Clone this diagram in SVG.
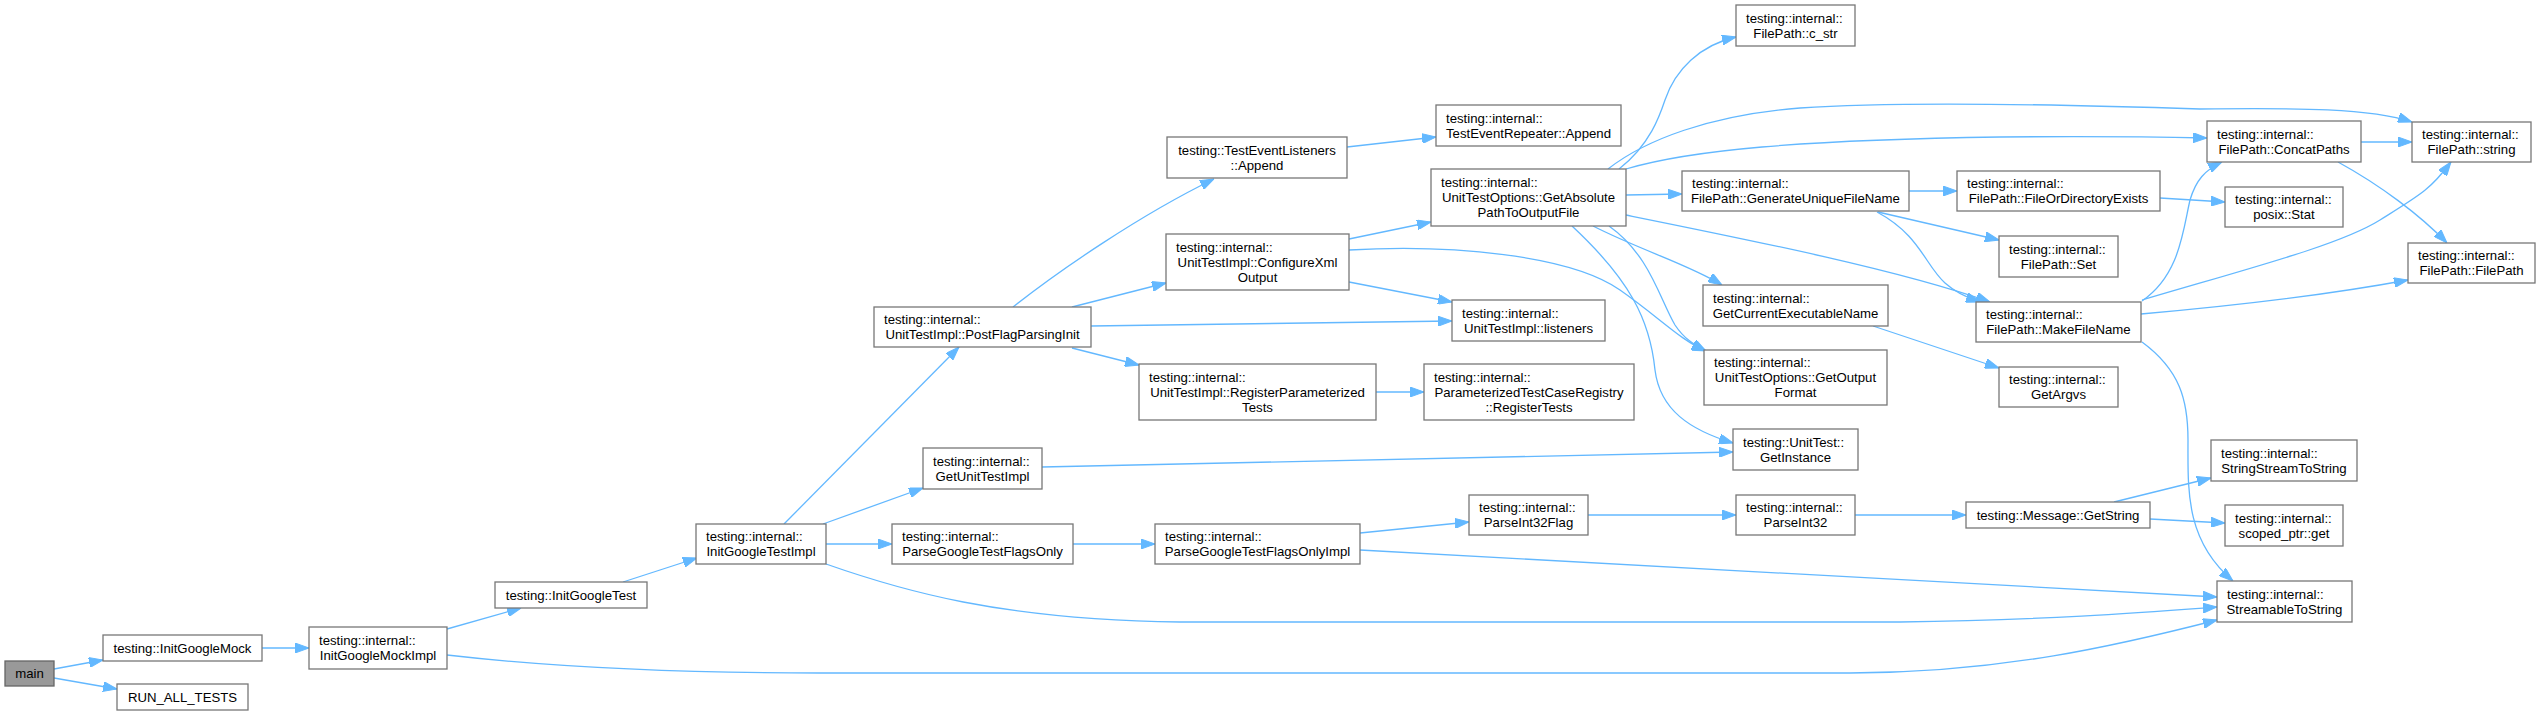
<svg xmlns="http://www.w3.org/2000/svg" width="2540" height="716" viewBox="0 0 2540 716">
<style>
.node rect{fill:#ffffff;stroke:#777777;stroke-width:1.3}
.node text{font-family:"Liberation Sans",Arial,Helvetica,sans-serif;font-size:13.2px;fill:#000000}
.node .l{text-anchor:start}
.node .c{text-anchor:middle}
#n_main rect{fill:#999999;stroke:#666666}
.edges path{fill:none;stroke:#63b8ff;stroke-width:1.3;marker-end:url(#arr)}
</style>
<defs>
<marker id="arr" markerWidth="14" markerHeight="10" refX="14" refY="5" orient="auto" markerUnits="userSpaceOnUse"><path d="M0,0 L14,5 L0,10 z" fill="#63b8ff" stroke="#63b8ff" stroke-width="1"/></marker>
</defs>
<rect width="2540" height="716" fill="#ffffff"/>
<g class="edges">
<path d="M54,669 L103,660"/>
<path d="M54,678 L117,689"/>
<path d="M262,648 L309,648"/>
<path d="M447,629 L521,608"/>
<path d="M447,655 C560,668 680,673 820,673 L1850,673 C2000,673 2120,645 2217,620"/>
<path d="M623,582 L697,558"/>
<path d="M784,524 L959,347"/>
<path d="M823,524 L923,488"/>
<path d="M826,544 L892,544"/>
<path d="M826,564 C900,590 1000,620 1180,622 L1900,622 C2050,620 2150,612 2217,607"/>
<path d="M1073,544 L1155,544"/>
<path d="M1360,533 L1469,522"/>
<path d="M1360,550 L2217,597"/>
<path d="M1013,307 C1060,270 1140,215 1214,179"/>
<path d="M1072,307 L1166,283"/>
<path d="M1091,326 L1452,321"/>
<path d="M1072,348 L1139,365"/>
<path d="M1349,239 L1431,222"/>
<path d="M1349,282 L1452,302"/>
<path d="M1349,250 C1450,244 1570,255 1620,290 C1660,318 1680,340 1706,351"/>
<path d="M1376,392 L1424,392"/>
<path d="M1347,147 L1436,137"/>
<path d="M1042,467 L1733,452"/>
<path d="M1619,169 C1650,145 1660,115 1665,100 C1675,70 1700,45 1736,37"/>
<path d="M1608,169 C1645,140 1710,115 1800,108 C1900,101 2050,104 2200,109 C2300,108 2370,108 2412,122"/>
<path d="M1626,169 C1690,150 1800,140 2000,137 C2100,136 2160,137 2207,138"/>
<path d="M1626,195 L1682,194"/>
<path d="M1626,215 C1750,240 1900,270 1990,302"/>
<path d="M1593,226 C1640,250 1690,265 1722,285"/>
<path d="M1609,226 C1650,255 1660,300 1675,325 C1685,340 1695,345 1706,351"/>
<path d="M1572,226 C1630,280 1650,320 1655,370 C1660,410 1690,430 1733,443"/>
<path d="M1909,191 L1957,191"/>
<path d="M1878,212 L1999,240"/>
<path d="M1877,212 C1920,235 1925,265 1945,283 C1955,292 1965,297 1980,302"/>
<path d="M1873,326 L1999,368"/>
<path d="M1588,515 L1736,515"/>
<path d="M1855,515 L1966,515"/>
<path d="M2114,502 L2211,478"/>
<path d="M2150,519 L2225,523"/>
<path d="M2160,198 L2225,202"/>
<path d="M2142,301 C2180,275 2183,230 2190,200 C2196,180 2205,170 2222,162"/>
<path d="M2142,300 C2250,268 2340,245 2380,220 S2430,190 2451,162"/>
<path d="M2141,314 Q2300,300 2408,280"/>
<path d="M2142,342 C2180,370 2188,400 2188,440 C2188,490 2185,540 2233,581"/>
<path d="M2361,142 L2412,142"/>
<path d="M2338,162 C2380,185 2420,215 2447,243"/>
</g>
<g id="n_main" class="node"><rect x="5" y="661" width="49" height="25"/><text class="c" x="29.5" y="678.2">main</text></g>
<g id="n_igm" class="node"><rect x="103" y="635" width="159" height="26"/><text class="c" x="182.5" y="652.7">testing::InitGoogleMock</text></g>
<g id="n_rat" class="node"><rect x="117" y="684" width="131" height="26"/><text class="c" x="182.5" y="701.7">RUN_ALL_TESTS</text></g>
<g id="n_igmi" class="node"><rect x="309" y="627" width="138" height="42"/><text class="l" x="319" y="645.2">testing::internal::</text><text class="c" x="378" y="660.2">InitGoogleMockImpl</text></g>
<g id="n_igt" class="node"><rect x="495" y="582" width="152" height="26"/><text class="c" x="571" y="599.7">testing::InitGoogleTest</text></g>
<g id="n_igti" class="node"><rect x="696" y="524" width="130" height="40"/><text class="l" x="706" y="541.2">testing::internal::</text><text class="c" x="761" y="556.2">InitGoogleTestImpl</text></g>
<g id="n_pfpi" class="node"><rect x="874" y="307" width="217" height="40"/><text class="l" x="884" y="324.2">testing::internal::</text><text class="c" x="982.5" y="339.2">UnitTestImpl::PostFlagParsingInit</text></g>
<g id="n_guti" class="node"><rect x="923" y="448" width="119" height="41"/><text class="l" x="933" y="465.7">testing::internal::</text><text class="c" x="982.5" y="480.7">GetUnitTestImpl</text></g>
<g id="n_pgtfo" class="node"><rect x="892" y="524" width="181" height="40"/><text class="l" x="902" y="541.2">testing::internal::</text><text class="c" x="982.5" y="556.2">ParseGoogleTestFlagsOnly</text></g>
<g id="n_pgtfoi" class="node"><rect x="1155" y="524" width="205" height="40"/><text class="l" x="1165" y="541.2">testing::internal::</text><text class="c" x="1257.5" y="556.2">ParseGoogleTestFlagsOnlyImpl</text></g>
<g id="n_tela" class="node"><rect x="1167" y="137" width="180" height="41"/><text class="c" x="1257" y="154.7">testing::TestEventListeners</text><text class="c" x="1257" y="169.7">::Append</text></g>
<g id="n_cxo" class="node"><rect x="1166" y="234" width="183" height="56"/><text class="l" x="1176" y="251.7">testing::internal::</text><text class="c" x="1257.5" y="266.7">UnitTestImpl::ConfigureXml</text><text class="c" x="1257.5" y="281.7">Output</text></g>
<g id="n_rpt" class="node"><rect x="1139" y="364" width="237" height="56"/><text class="l" x="1149" y="381.7">testing::internal::</text><text class="c" x="1257.5" y="396.7">UnitTestImpl::RegisterParameterized</text><text class="c" x="1257.5" y="411.7">Tests</text></g>
<g id="n_tera" class="node"><rect x="1436" y="105" width="185" height="41"/><text class="l" x="1446" y="122.7">testing::internal::</text><text class="c" x="1528.5" y="137.7">TestEventRepeater::Append</text></g>
<g id="n_gapof" class="node"><rect x="1431" y="169" width="195" height="57"/><text class="l" x="1441" y="187.2">testing::internal::</text><text class="c" x="1528.5" y="202.2">UnitTestOptions::GetAbsolute</text><text class="c" x="1528.5" y="217.2">PathToOutputFile</text></g>
<g id="n_lis" class="node"><rect x="1452" y="300" width="153" height="41"/><text class="l" x="1462" y="317.7">testing::internal::</text><text class="c" x="1528.5" y="332.7">UnitTestImpl::listeners</text></g>
<g id="n_ptcr" class="node"><rect x="1424" y="364" width="210" height="56"/><text class="l" x="1434" y="381.7">testing::internal::</text><text class="c" x="1529" y="396.7">ParameterizedTestCaseRegistry</text><text class="c" x="1529" y="411.7">::RegisterTests</text></g>
<g id="n_cstr" class="node"><rect x="1736" y="5" width="119" height="41"/><text class="l" x="1746" y="22.7">testing::internal::</text><text class="c" x="1795.5" y="37.7">FilePath::c_str</text></g>
<g id="n_gufn" class="node"><rect x="1682" y="171" width="227" height="40"/><text class="l" x="1692" y="188.2">testing::internal::</text><text class="c" x="1795.5" y="203.2">FilePath::GenerateUniqueFileName</text></g>
<g id="n_gcen" class="node"><rect x="1703" y="285" width="185" height="41"/><text class="l" x="1713" y="302.7">testing::internal::</text><text class="c" x="1795.5" y="317.7">GetCurrentExecutableName</text></g>
<g id="n_gof" class="node"><rect x="1704" y="350" width="183" height="55"/><text class="l" x="1714" y="367.2">testing::internal::</text><text class="c" x="1795.5" y="382.2">UnitTestOptions::GetOutput</text><text class="c" x="1795.5" y="397.2">Format</text></g>
<g id="n_gi" class="node"><rect x="1733" y="429" width="125" height="41"/><text class="l" x="1743" y="446.7">testing::UnitTest::</text><text class="c" x="1795.5" y="461.7">GetInstance</text></g>
<g id="n_pi32f" class="node"><rect x="1469" y="495" width="119" height="40"/><text class="l" x="1479" y="512.2">testing::internal::</text><text class="c" x="1528.5" y="527.2">ParseInt32Flag</text></g>
<g id="n_pi32" class="node"><rect x="1736" y="495" width="119" height="40"/><text class="l" x="1746" y="512.2">testing::internal::</text><text class="c" x="1795.5" y="527.2">ParseInt32</text></g>
<g id="n_fode" class="node"><rect x="1957" y="171" width="203" height="40"/><text class="l" x="1967" y="188.2">testing::internal::</text><text class="c" x="2058.5" y="203.2">FilePath::FileOrDirectoryExists</text></g>
<g id="n_set" class="node"><rect x="1999" y="236" width="119" height="41"/><text class="l" x="2009" y="253.7">testing::internal::</text><text class="c" x="2058.5" y="268.7">FilePath::Set</text></g>
<g id="n_mfn" class="node"><rect x="1976" y="302" width="165" height="40"/><text class="l" x="1986" y="319.2">testing::internal::</text><text class="c" x="2058.5" y="334.2">FilePath::MakeFileName</text></g>
<g id="n_argv" class="node"><rect x="1999" y="367" width="119" height="40"/><text class="l" x="2009" y="384.2">testing::internal::</text><text class="c" x="2058.5" y="399.2">GetArgvs</text></g>
<g id="n_gs" class="node"><rect x="1966" y="502" width="184" height="26"/><text class="c" x="2058" y="519.7">testing::Message::GetString</text></g>
<g id="n_cp" class="node"><rect x="2207" y="121" width="154" height="41"/><text class="l" x="2217" y="138.7">testing::internal::</text><text class="c" x="2284" y="153.7">FilePath::ConcatPaths</text></g>
<g id="n_stat" class="node"><rect x="2225" y="187" width="118" height="40"/><text class="l" x="2235" y="204.2">testing::internal::</text><text class="c" x="2284" y="219.2">posix::Stat</text></g>
<g id="n_ssts" class="node"><rect x="2211" y="440" width="146" height="41"/><text class="l" x="2221" y="457.7">testing::internal::</text><text class="c" x="2284" y="472.7">StringStreamToString</text></g>
<g id="n_spg" class="node"><rect x="2225" y="505" width="118" height="41"/><text class="l" x="2235" y="522.7">testing::internal::</text><text class="c" x="2284" y="537.7">scoped_ptr::get</text></g>
<g id="n_sts" class="node"><rect x="2217" y="581" width="135" height="41"/><text class="l" x="2227" y="598.7">testing::internal::</text><text class="c" x="2284.5" y="613.7">StreamableToString</text></g>
<g id="n_str" class="node"><rect x="2412" y="122" width="119" height="40"/><text class="l" x="2422" y="139.2">testing::internal::</text><text class="c" x="2471.5" y="154.2">FilePath::string</text></g>
<g id="n_fp" class="node"><rect x="2408" y="243" width="127" height="40"/><text class="l" x="2418" y="260.2">testing::internal::</text><text class="c" x="2471.5" y="275.2">FilePath::FilePath</text></g>
</svg>
